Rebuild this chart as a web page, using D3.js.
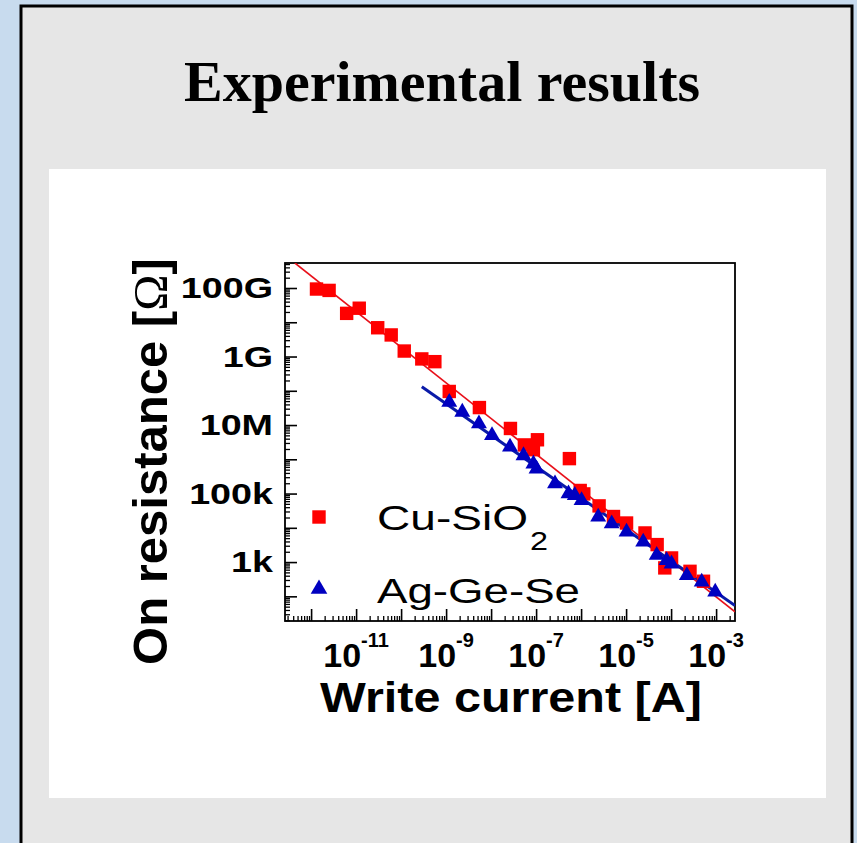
<!DOCTYPE html>
<html><head><meta charset="utf-8">
<script src="https://cdn.jsdelivr.net/npm/d3@7"></script>
<style>body{margin:0;background:#c8dbee;} svg{display:block}</style>
</head><body><svg id="c" width="857" height="843"></svg>
<script>
// ---- data (log10 values) ----
const cuLogI = [-11.88,-11.60,-11.21,-10.93,-10.52,-10.22,-9.93,-9.54,-9.25,-8.93,-8.26,-7.57,-7.26,-6.97,-7.06,-6.26,-6.02,-5.94,-5.60,-5.28,-4.99,-4.58,-4.31,-3.99,-4.14,-3.58,-3.28];
const cuLogR = [10.97,10.93,10.26,10.41,9.84,9.63,9.16,8.93,8.85,7.98,7.51,6.90,6.42,6.57,6.28,6.02,5.09,4.99,4.64,4.33,4.14,3.85,3.51,3.12,2.83,2.73,2.44];
const agLogI = [-8.93,-8.64,-8.27,-7.98,-7.58,-7.28,-7.06,-6.99,-6.58,-6.28,-6.14,-5.99,-5.62,-5.32,-4.99,-4.62,-4.32,-4.10,-3.99,-3.65,-3.32,-3.02];
const agLogR = [7.64,7.35,7.01,6.67,6.33,6.08,5.84,5.69,5.26,4.97,4.92,4.77,4.29,4.09,3.85,3.56,3.17,3.02,2.92,2.58,2.39,2.10];
const cuFitLogI = [-12.36, -2.58];
const cuFitLogR = [11.73, 1.55];
const agFitLogI = [-9.54, -2.58];
const agFitLogR = [8.12, 1.73];
const xTickExp = [-11, -9, -7, -5, -3];
const yTickVals = [1e11, 1e9, 1e7, 1e5, 1e3];
const yTickLabels = ["100G", "1G", "10M", "100k", "1k"];
const seriesNames = ["Cu-SiO", "Ag-Ge-Se"];
const title = "Experimental results";

const svg = d3.select("#c");
const sans = "Arial, 'Liberation Sans', sans-serif";

// background panels
svg.append("rect").attr("x",0).attr("y",0).attr("width",857).attr("height",843).attr("fill","#c8dbee");
svg.append("rect").attr("x",21).attr("y",6).attr("width",831).attr("height",850)
  .attr("fill","#e6e6e6").attr("stroke","#000").attr("stroke-width",3);
svg.append("rect").attr("x",49).attr("y",169).attr("width",777).attr("height",629).attr("fill","#fff");

svg.append("text").attr("x",442).attr("y",101).attr("text-anchor","middle")
  .attr("font-family","'Liberation Serif','Times New Roman',serif").attr("font-weight","bold")
  .attr("font-size",58).attr("fill","#000").text(title);

// scales
const x = d3.scaleLog().domain([Math.pow(10,-12.58), Math.pow(10,-2.58)]).range([285,735]);
const y = d3.scaleLog().domain([Math.pow(10,1.28), Math.pow(10,11.73)]).range([621,263]);
const P = v => Math.pow(10, v);

// ticks
function ticksIn(dom, major){
  const out=[]; const lo=Math.floor(Math.log10(dom[0])), hi=Math.ceil(Math.log10(dom[1]));
  for(let d=lo; d<=hi; d++) for(let k=1;k<=9;k++){
    const v=k*Math.pow(10,d);
    if(v>=dom[0] && v<=dom[1] && ((k===1)===major)) out.push(v);
  }
  return out;
}
const xd=x.domain(), yd=y.domain();
svg.append("g").attr("transform","translate(0,621)")
  .call(d3.axisBottom(x).tickValues(ticksIn(xd,false)).tickSize(-5).tickFormat(""))
  .call(g=>g.select(".domain").remove()).selectAll("line").attr("stroke","#000").attr("stroke-width",1.3);
svg.append("g").attr("transform","translate(0,621)")
  .call(d3.axisBottom(x).tickValues(ticksIn(xd,true)).tickSize(-12).tickFormat(""))
  .call(g=>g.select(".domain").remove()).selectAll("line").attr("stroke","#000").attr("stroke-width",1.6);
svg.append("g").attr("transform","translate(285,0)")
  .call(d3.axisLeft(y).tickValues(ticksIn(yd,false)).tickSize(-5).tickFormat(""))
  .call(g=>g.select(".domain").remove()).selectAll("line").attr("stroke","#000").attr("stroke-width",1.3);
svg.append("g").attr("transform","translate(285,0)")
  .call(d3.axisLeft(y).tickValues(ticksIn(yd,true)).tickSize(-12).tickFormat(""))
  .call(g=>g.select(".domain").remove()).selectAll("line").attr("stroke","#000").attr("stroke-width",1.6);

// frame
svg.append("rect").attr("x",285).attr("y",263).attr("width",450).attr("height",358)
  .attr("fill","none").attr("stroke","#000").attr("stroke-width",1.8);

// clip
svg.append("clipPath").attr("id","pc").append("rect").attr("x",285).attr("y",263).attr("width",450).attr("height",358);
const plot = svg.append("g").attr("clip-path","url(#pc)");

const line = d3.line().x(d=>x(P(d[0]))).y(d=>y(P(d[1])));
plot.append("path").datum(cuFitLogI.map((v,i)=>[v,cuFitLogR[i]])).attr("d",line)
  .attr("fill","none").attr("stroke","#e8101a").attr("stroke-width",1.6);
plot.append("path").datum(agFitLogI.map((v,i)=>[v,agFitLogR[i]])).attr("d",line)
  .attr("fill","none").attr("stroke","#0a1aa8").attr("stroke-width",3);

const sq = d3.symbol().type(d3.symbolSquare).size(180);
const tri = d3.symbol().type(d3.symbolTriangle).size(110);
const triL = d3.symbol().type(d3.symbolTriangle).size(120);
plot.selectAll(".cu").data(cuLogI.map((v,i)=>[v,cuLogR[i]])).join("path")
  .attr("transform",d=>`translate(${x(P(d[0]))},${y(P(d[1]))})`).attr("d",sq).attr("fill","#ff0000");
plot.selectAll(".ag").data(agLogI.map((v,i)=>[v,agLogR[i]])).join("path")
  .attr("transform",d=>`translate(${x(P(d[0]))},${y(P(d[1])) - 1})`).attr("d",tri).attr("fill","#0000c0");

// tick labels
xTickExp.forEach(e=>{
  const t = svg.append("text").attr("x",x(P(e))).attr("y",667).attr("text-anchor","middle")
    .attr("font-family",sans).attr("font-weight","bold").attr("font-size",34).attr("fill","#000");
  t.append("tspan").text("10");
  t.append("tspan").attr("dy",-20).attr("font-size",20).text(String(e));
});
yTickVals.forEach((v,i)=>{
  svg.append("text").attr("transform",`translate(273,${y(v)+10}) scale(1.3,1)`).attr("text-anchor","end")
    .attr("font-family",sans).attr("font-weight","bold").attr("font-size",29).attr("fill","#000").text(yTickLabels[i]);
});

// axis titles
svg.append("text").attr("x",511).attr("y",712).attr("text-anchor","middle")
  .attr("font-family",sans).attr("font-weight","bold").attr("font-size",42).attr("textLength",382)
  .attr("lengthAdjust","spacingAndGlyphs").attr("fill","#000").text("Write current [A]");
const yt = svg.append("text").attr("transform","translate(167,461.5) rotate(-90)").attr("text-anchor","middle")
  .attr("font-family",sans).attr("font-weight","bold").attr("font-size",49).attr("fill","#000");
yt.append("tspan").text("On resistance [");
yt.append("tspan").attr("font-weight","normal").attr("font-family","'Liberation Serif',serif").text("Ω");
yt.append("tspan").text("]");

// legend
svg.append("path").attr("transform","translate(319,517)").attr("d",sq).attr("fill","#ff0000");
svg.append("path").attr("transform","translate(319,589)").attr("d",triL).attr("fill","#0000c0");
svg.append("text").attr("x",377).attr("y",530).attr("font-family",sans).attr("font-size",35)
  .attr("textLength",151).attr("lengthAdjust","spacingAndGlyphs").attr("fill","#000").text(seriesNames[0]);
svg.append("text").attr("x",530).attr("y",550).attr("font-family",sans).attr("font-size",26)
  .attr("textLength",18).attr("lengthAdjust","spacingAndGlyphs").attr("fill","#000").text("2");
svg.append("text").attr("x",377).attr("y",603).attr("font-family",sans).attr("font-size",35)
  .attr("textLength",203).attr("lengthAdjust","spacingAndGlyphs").attr("fill","#000").text(seriesNames[1]);
</script></body></html>
